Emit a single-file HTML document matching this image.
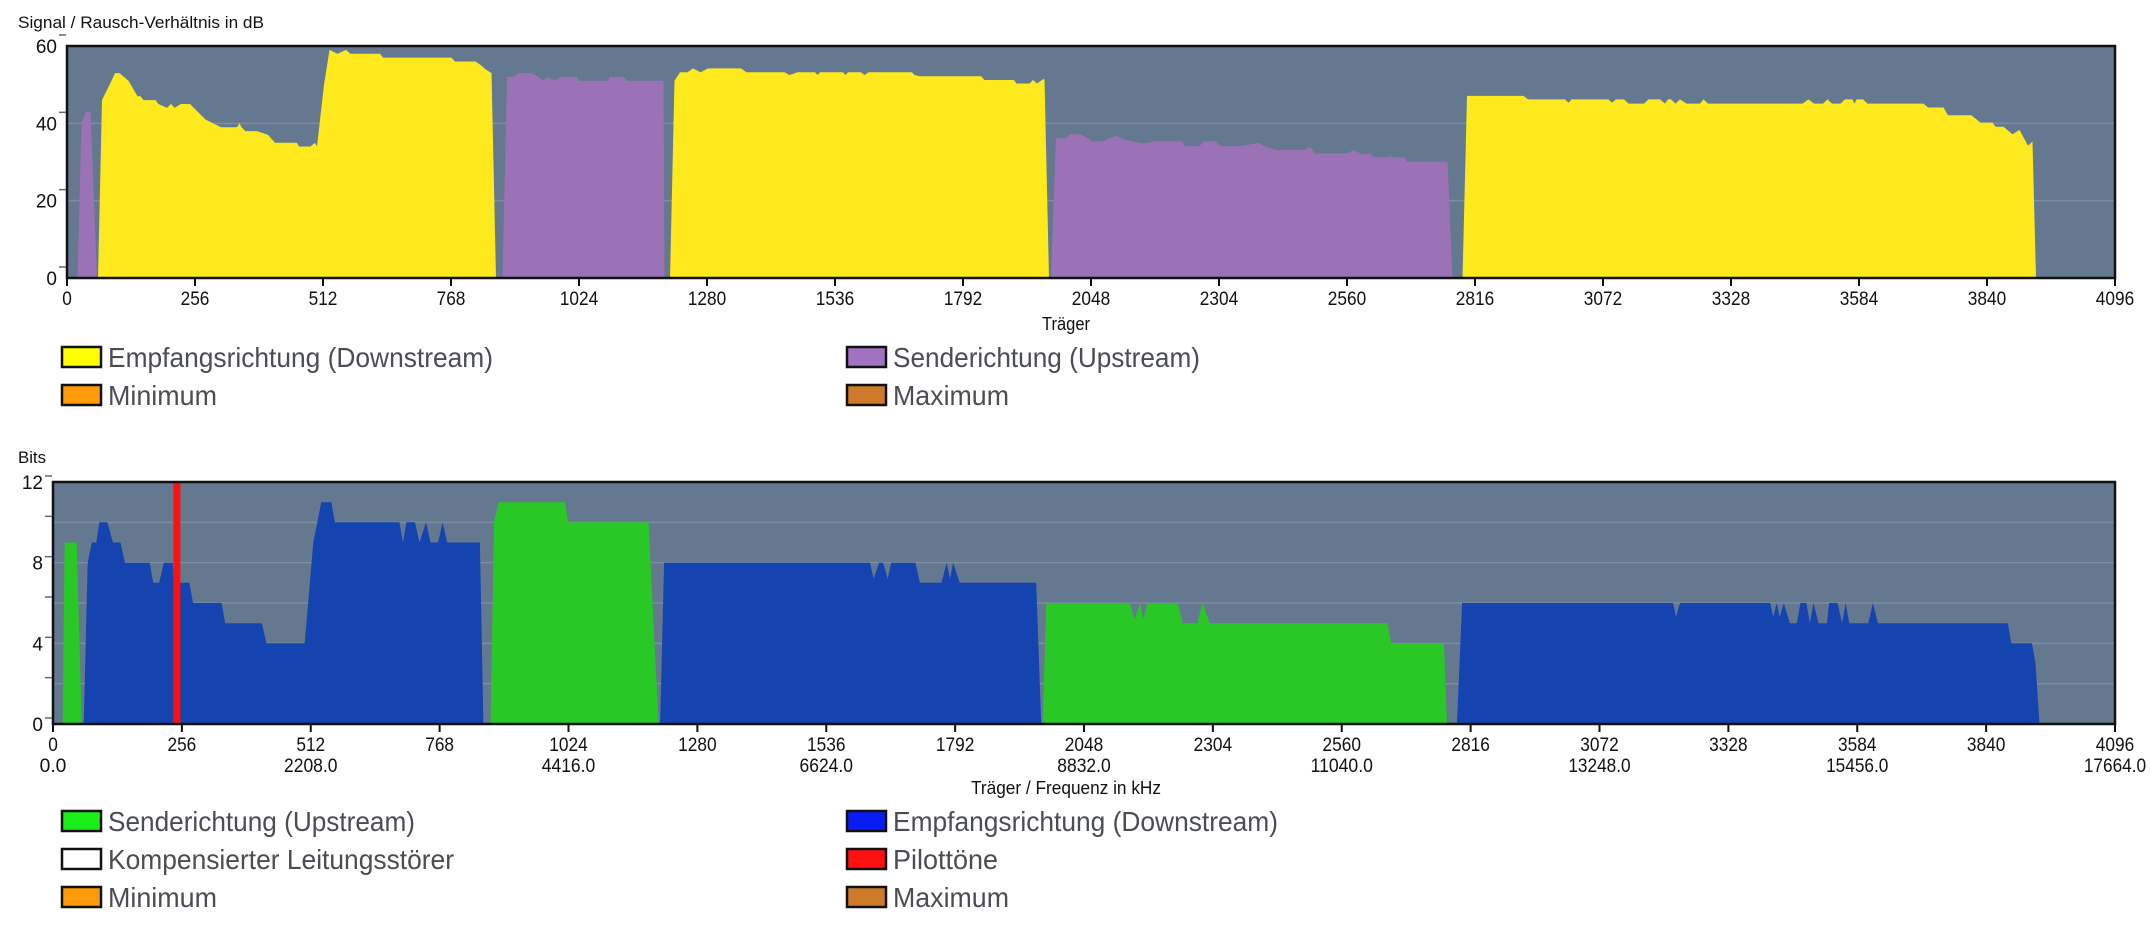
<!DOCTYPE html>
<html><head><meta charset="utf-8"><style>
html,body{margin:0;padding:0;background:#fff;width:2150px;height:934px;overflow:hidden}
svg{display:block;font-family:"Liberation Sans",sans-serif}
</style></head><body>
<svg id="svg" width="2150" height="934" viewBox="0 0 2150 934" xmlns="http://www.w3.org/2000/svg"></svg>
<script>
// ---------- DATA ----------
const xTicks = [0,256,512,768,1024,1280,1536,1792,2048,2304,2560,2816,3072,3328,3584,3840,4096];
const freqTickCarriers = [0,512,1024,1536,2048,2560,3072,3584,4096];
const freqTickLabels = ["0.0","2208.0","4416.0","6624.0","8832.0","11040.0","13248.0","15456.0","17664.0"];
const snrTicks = [0,20,40,60];
const bitTicks = [0,4,8,12];
const snrDownstream = [[62,0],[70,46],[89,51],[96,53],[105,53],[114,52],[123,51],[141,47],[147,47],[153,46],[177,46],[183,45],[200,44],[208,45],[215,44],[228,45],[246,45],[277,41],[292,40],[308,39],[340,39],[345,40],[349,39],[357,38],[380,38],[402,37],[416,35],[460,35],[464,34],[487,34],[496,35],[500,34],[514,50],[525,59],[541,58],[558,59],[567,58],[626,58],[632,57],[769,57],[776,56],[817,56],[828,55],[837,54],[849,53],[858,0],[1206,0],[1215,51],[1226,53.2],[1241,53.2],[1252,54.2],[1267,53.2],[1282,54.2],[1348,54.2],[1359,53.2],[1435,53.2],[1445,52.5],[1461,53.2],[1496,53.2],[1501,52.5],[1506,53.2],[1552,53.2],[1557,52.5],[1562,53.2],[1588,53.2],[1595,52.5],[1603,53.2],[1690,53.2],[1695,52.5],[1705,52.2],[1828,52.2],[1835,51.2],[1894,51.2],[1899,50.3],[1925,50.3],[1932,51.2],[1940,50.3],[1952,51.4],[1955,51.4],[1964,0],[2791,0],[2800,47.1],[2913,47.1],[2922,46.2],[2996,46.2],[3003,45.3],[3009,46.2],[3083,46.2],[3090,45.3],[3098,46.2],[3114,46.2],[3123,45.1],[3154,45.1],[3163,46.2],[3186,46.2],[3196,45.1],[3202,46.2],[3208,46.2],[3217,45.1],[3226,46.2],[3239,45.1],[3266,45.1],[3273,46.2],[3282,45.1],[3471,45.1],[3483,46.2],[3494,45.1],[3512,45.1],[3521,46.2],[3530,45.1],[3547,45.1],[3556,46.2],[3571,46.2],[3575,45.1],[3579,46.2],[3592,46.2],[3601,45.1],[3713,45.1],[3722,44.1],[3753,44.1],[3762,42.1],[3809,42.1],[3827,40.2],[3851,40.2],[3857,39.1],[3873,39.1],[3891,37.2],[3905,38.3],[3922,34.2],[3931,35.3],[3938,0]];
const snrUpstream = [[21,0],[29,40],[38,43],[47,43],[60,0],[871,0],[880,52],[894,52],[903,53],[930,53],[943,52],[952,51],[961,52],[975,51],[989,52],[1020,52],[1023,51],[1082,51],[1086,52],[1113,52],[1120,51],[1193,51],[1195,0],[1968,0],[1978,36.1],[1998,36.1],[2006,37.2],[2027,37.2],[2042,36.1],[2050,35.3],[2073,35.3],[2083,36.1],[2101,36.8],[2108,36.1],[2129,35.3],[2154,34.8],[2175,35.3],[2231,35.3],[2236,34.1],[2266,34.1],[2272,35.3],[2297,35.3],[2307,34.1],[2348,34.1],[2384,35],[2394,34.1],[2419,33.1],[2476,33.1],[2486,34],[2496,32.2],[2562,32.2],[2572,33.1],[2588,32.1],[2608,32.1],[2613,31.2],[2644,31.2],[2646,32.1],[2649,31.2],[2674,31.2],[2680,30.1],[2761,30.1],[2771,0]];
const bitsDownstream = [[61,0],[69,8],[77,9],[86,9],[92,10],[108,10],[119,9],[134,9],[143,8],[192,8],[199,7],[211,7],[220,8],[238,8],[240,7],[271,7],[278,6],[335,6],[342,5],[415,5],[424,4],[500,4],[517,9],[533,11],[553,11],[560,10],[688,10],[695,9],[702,10],[719,10],[728,9],[741,10],[750,9],[765,9],[774,10],[783,9],[848,9],[855,0],[1206,0],[1214,8],[1623,8],[1630,7.2],[1641,8],[1649,8],[1658,7.2],[1665,8],[1713,8],[1722,7],[1765,7],[1775,8],[1782,7.2],[1788,8],[1801,7],[1953,7],[1963,0],[2789,0],[2799,6],[3218,6],[3224,5.3],[3232,6],[3411,6],[3417,5.3],[3424,6],[3430,5.3],[3438,6],[3450,5],[3464,5],[3471,6],[3483,6],[3490,5],[3497,6],[3507,5],[3524,5],[3528,6],[3545,6],[3554,5],[3561,6],[3568,5],[3606,5],[3615,6],[3625,5],[3883,5],[3890,4],[3931,4],[3938,3],[3946,0]];
const bitsUpstream = [[19,0],[23,9],[47,9],[57,0],[869,0],[876,10],[885,11],[1017,11],[1023,10],[1183,10],[1203,0],[1966,0],[1973,6],[2139,6],[2149,5.2],[2159,6],[2166,5.2],[2174,6],[2234,6],[2244,5],[2273,5],[2283,6],[2298,5],[2651,5],[2658,4],[2763,4],[2769,0]];
const pilotCarriers = [246];

// ---------- HELPERS ----------
const NS = "http://www.w3.org/2000/svg";
const svg = document.getElementById('svg');
function mk(tag, attrs, parent){ const e=document.createElementNS(NS,tag); for(const k in attrs) e.setAttribute(k,attrs[k]); (parent||svg).appendChild(e); return e; }
function txt(s, attrs, parent){ const e=mk('text',attrs,parent); e.textContent=s; return e; }

function drawChart(cfg){
  const g = mk('g',{});
  
  
  const X = c => cfg.x0 + (c/4096)*(cfg.x1-cfg.x0);
  const Y = v => cfg.yb - (v/cfg.ymax)*(cfg.yb-cfg.yt);
  const bg = mk('rect',{x:cfg.x0,y:cfg.yt,width:cfg.x1-cfg.x0,height:cfg.yb-cfg.yt,fill:'#64788f'},g);
  
  
  cfg.grid.forEach(v=>{
    const l = mk('line',{x1:cfg.x0,x2:cfg.x1,y1:Y(v),y2:Y(v),stroke:'#7d8ea3','stroke-width':1.5},g);
    
    
  });
  cfg.series.forEach(s=>{
    let d = 'M'+X(s.data[0][0])+','+Y(0);
    s.data.forEach(p=>{ d += ' L'+X(p[0]).toFixed(1)+','+Y(p[1]).toFixed(1); });
    d += ' L'+X(s.data[s.data.length-1][0])+','+Y(0)+' Z';
    const p = mk('path',{d:d,fill:s.color},g);
    
    
  });
  (cfg.pilots||[]).forEach(c=>{
    const r = mk('rect',{x:X(c)-3.5,y:cfg.yt,width:7,height:cfg.yb-cfg.yt,fill:'#ff1010'},g);
    
    
  });
  const fr = mk('rect',{x:cfg.x0,y:cfg.yt,width:cfg.x1-cfg.x0,height:cfg.yb-cfg.yt,fill:'none',stroke:'#111','stroke-width':2.5},g);
  
  
  cfg.yticks.forEach(v=>{
    const yy = Y(v);
    const t = txt(String(v),{x:cfg.x0-10,y:yy+7,'font-size':19,'text-anchor':'end',fill:'#111'},g);
    
    
  });
  cfg.tickMarks.forEach(v=>{
    const l = mk('line',{x1:cfg.x0-8,x2:cfg.x0-1,y1:Y(v)+cfg.tickOff,y2:Y(v)+cfg.tickOff,stroke:'#667','stroke-width':1.5},g);
    
    
  });
  xTicks.forEach(c=>{
    const xx = X(c);
    const l = mk('line',{x1:xx,x2:xx,y1:cfg.yb,y2:cfg.yb+8,stroke:'#111','stroke-width':2},g);
    
    
    const s = String(c);
    const t = txt(s,{x:xx,y:cfg.yb+27,'font-size':19,'text-anchor':'middle',fill:'#111',textLength:s.length*9.6,lengthAdjust:'spacingAndGlyphs'},g);
    
    
  });
  if(cfg.freq){
    freqTickCarriers.forEach((c,i)=>{
      const s = freqTickLabels[i];
      const t = txt(s,{x:X(c),y:cfg.yb+48,'font-size':19,'text-anchor':'middle',fill:'#111',textLength:s.length*8.9,lengthAdjust:'spacingAndGlyphs'},g);
      
      
    });
  }
  const at = txt(cfg.xtitle,{x:1066,y:cfg.xtitleY,'font-size':18,'text-anchor':'middle',fill:'#111',textLength:cfg.xtitleW,lengthAdjust:'spacingAndGlyphs'},g);
  
  
  const yt = txt(cfg.ytitle,{x:18,y:cfg.ytitleY,'font-size':17,fill:'#111',textLength:cfg.ytitleW,lengthAdjust:'spacingAndGlyphs'},g);
  
  
}

function legend(items){
  items.forEach(it=>{
    const g = mk('g',{});
    
    
    mk('rect',{x:it.x,y:it.y-10,width:39,height:20,fill:it.color,stroke:'#111','stroke-width':2.5},g);
    txt(it.label,{x:it.x+46,y:it.y+10,'font-size':28,fill:'#4a4d52',textLength:it.w,lengthAdjust:'spacingAndGlyphs'},g);
  });
}

drawChart({name:'snr-chart',x0:67,x1:2115,yt:46,yb:278,ymax:60,grid:[20,40],yticks:snrTicks,tickMarks:[0,20,40,60],tickOff:-11,
  series:[{name:'snr-upstream-area',color:'#9c72b7',data:snrUpstream},{name:'snr-downstream-area',color:'#fde91e',data:snrDownstream}],
  xtitle:'Träger',xtitleY:330,xtitleW:48,ytitle:'Signal / Rausch-Verhältnis in dB',ytitleY:28,ytitleW:246});
legend([
  {x:62,y:357,color:'#ffff00',label:'Empfangsrichtung (Downstream)',w:385},
  {x:847,y:357,color:'#a072bf',label:'Senderichtung (Upstream)',w:307},
  {x:62,y:395,color:'#ff9a0a',label:'Minimum',w:109},
  {x:847,y:395,color:'#cd7a2a',label:'Maximum',w:116}
]);
drawChart({name:'bits-chart',x0:53,x1:2115,yt:482,yb:724,ymax:12,grid:[2,4,6,8,10],yticks:bitTicks,tickMarks:[0,2,4,6,8,10,12],tickOff:-6,freq:true,
  series:[{name:'bits-upstream-area',color:'#2ac826',data:bitsUpstream},{name:'bits-downstream-area',color:'#1544b1',data:bitsDownstream}],
  pilots:pilotCarriers,
  xtitle:'Träger / Frequenz in kHz',xtitleY:794,xtitleW:190,ytitle:'Bits',ytitleY:463,ytitleW:28});
legend([
  {x:62,y:821,color:'#19f019',label:'Senderichtung (Upstream)',w:307},
  {x:847,y:821,color:'#0a1cf5',label:'Empfangsrichtung (Downstream)',w:385},
  {x:62,y:859,color:'#ffffff',label:'Kompensierter Leitungsstörer',w:346},
  {x:847,y:859,color:'#ff1010',label:'Pilottöne',w:105},
  {x:62,y:897,color:'#ff9a0a',label:'Minimum',w:109},
  {x:847,y:897,color:'#cd7a2a',label:'Maximum',w:116}
]);
</script>
</body></html>
